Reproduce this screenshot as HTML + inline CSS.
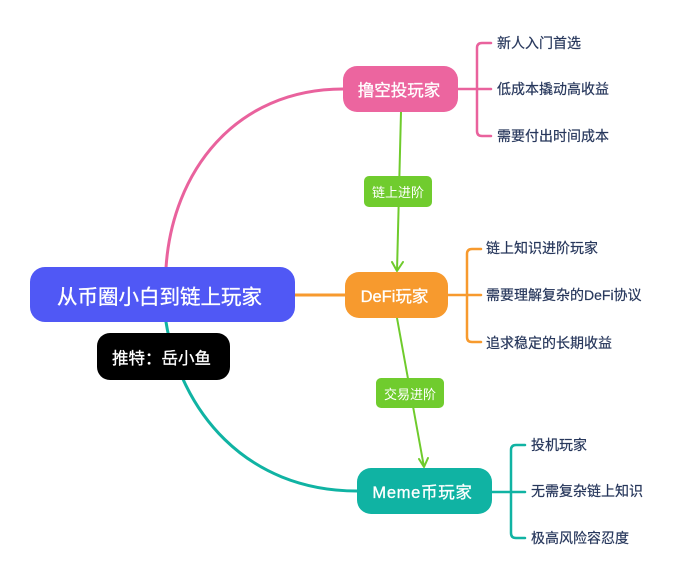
<!DOCTYPE html>
<html>
<head>
<meta charset="utf-8">
<style>
html,body{margin:0;padding:0;background:#fff}
#c{position:relative;width:680px;height:580px;overflow:hidden;background:#fff;font-family:"Liberation Sans","Noto Sans CJK SC",sans-serif}
svg{position:absolute;left:0;top:0}
.n{position:absolute;display:flex;align-items:center;justify-content:center;color:#fff;white-space:nowrap;box-sizing:border-box;-webkit-text-stroke:.3px #fff}
.l{position:absolute;color:#27375c;font-size:14px;line-height:20px;white-space:nowrap;-webkit-text-stroke:.2px #27375c}
</style>
</head>
<body>
<div id="c">
<svg width="680" height="580" fill="none" stroke-linecap="round" stroke-linejoin="round">
<path d="M166 268C172 172 235 89 343 89" stroke="#e9629d" stroke-width="3"/>
<path d="M166 322C180 410 245 491 357 491" stroke="#10b3a3" stroke-width="3"/>
<path d="M295 295H345" stroke="#f79a2e" stroke-width="3"/>
<path d="M458 89H491M491 43H482Q477 43 477 48V131Q477 136 482 136H491" stroke="#e9629d" stroke-width="2.5"/>
<path d="M448 295H481M481 249H472Q467 249 467 254V337Q467 342 472 342H481" stroke="#f79a2e" stroke-width="2.5"/>
<path d="M492 492H525M525 445H516Q511 445 511 450V533Q511 538 516 538H525" stroke="#10b3a3" stroke-width="2.5"/>
<path d="M401 112L397 271M392 262L397 271L403 262" stroke="#6fcb2c" stroke-width="2"/>
<path d="M397 318L424 467M419 459L424 467L428 458" stroke="#6fcb2c" stroke-width="2"/>
</svg>
<div class="n" style="left:30px;top:267px;width:265px;height:55px;border-radius:15px;background:#5058f5;font-size:20.5px;padding-right:6px">从币圈小白到链上玩家</div>
<div class="n" style="left:97px;top:333px;width:133px;height:47px;border-radius:13px;background:#000;font-size:16.5px;padding-right:4px">推特&#xFF1A;岳小鱼</div>
<div class="n" style="left:343px;top:66px;width:115px;height:46px;border-radius:14px;background:#ec659f;font-size:16.5px;padding-right:3px">撸空投玩家</div>
<div class="n" style="left:345px;top:272px;width:103px;height:46px;border-radius:14px;background:#f79a2e;font-size:16.5px;padding-right:4px">DeFi玩家</div>
<div class="n" style="left:357px;top:468px;width:135px;height:46px;border-radius:14px;background:#10b3a3;font-size:16.5px;letter-spacing:.7px;padding-right:4px">Meme币玩家</div>
<div class="n" style="left:364px;top:176px;width:68px;height:31px;border-radius:5px;background:#70cc2e;font-size:13px;-webkit-text-stroke:0">链上进阶</div>
<div class="n" style="left:376px;top:378px;width:68px;height:30px;border-radius:5px;background:#70cc2e;font-size:13px;-webkit-text-stroke:0">交易进阶</div>
<div class="l" style="left:497px;top:33px">新人入门首选</div>
<div class="l" style="left:497px;top:79px">低成本撬动高收益</div>
<div class="l" style="left:497px;top:126px">需要付出时间成本</div>
<div class="l" style="left:486px;top:238px">链上知识进阶玩家</div>
<div class="l" style="left:486px;top:285px">需要理解复杂的DeFi协议</div>
<div class="l" style="left:486px;top:333px">追求稳定的长期收益</div>
<div class="l" style="left:531px;top:435px">投机玩家</div>
<div class="l" style="left:531px;top:481px">无需复杂链上知识</div>
<div class="l" style="left:531px;top:528px">极高风险容忍度</div>
</div>
</body>
</html>
